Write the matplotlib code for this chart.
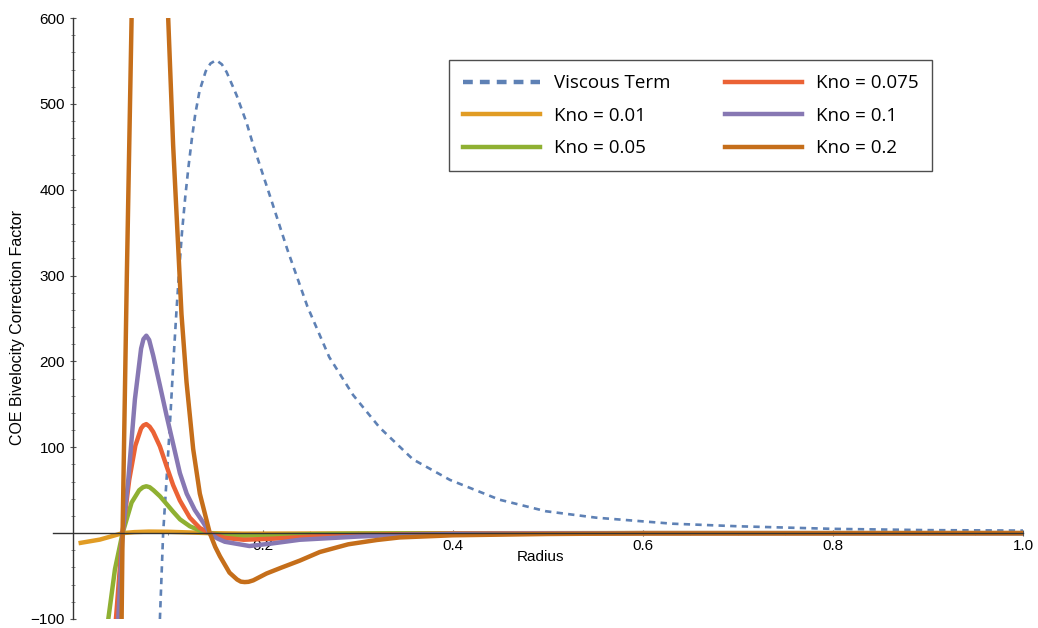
import numpy as np
import matplotlib
matplotlib.use("Agg")
import matplotlib.pyplot as plt
from matplotlib.lines import Line2D
from matplotlib.ticker import MultipleLocator, FixedLocator, FormatStrFormatter

# radius / correction-factor samples for each curve
viscous_r = [0.0918, 0.0952, 0.0998, 0.1030, 0.1060, 0.1090, 0.1120, 0.1150, 0.1185, 0.1220,
             0.1255, 0.1290, 0.1335, 0.1400, 0.1450, 0.1510, 0.1570, 0.1620, 0.1725, 0.1830,
             0.19, 0.209, 0.226, 0.247, 0.27, 0.295, 0.323, 0.358, 0.397, 0.449, 0.498, 0.551,
             0.631, 0.70, 0.80, 0.90, 1.0]
viscous_y = [-100, 0, 80, 140, 200, 255, 305, 350, 392, 428,
             460, 488, 515, 538, 547, 551, 546, 537, 510, 478,
             452, 388, 330, 264, 205, 161, 123, 86, 62, 39, 25.5, 18,
             11, 8, 5, 3.5, 3]

kno001_r = [0.0085, 0.0287, 0.0525, 0.065, 0.08, 0.10, 0.12, 0.1443, 0.18, 0.25, 0.4, 0.6, 1.0]
kno001_y = [-11.3, -7.5, 0, 1.2, 1.8, 1.6, 0.9, 0, -0.6, -0.4, -0.1, 0, 0]

kno005_r = [0.0375, 0.0445, 0.0525, 0.062, 0.070, 0.074, 0.0775, 0.081, 0.085, 0.0918, 0.0988,
            0.1057, 0.113, 0.1233, 0.134, 0.1443, 0.16, 0.18, 0.21, 0.25, 0.3, 0.4, 0.6, 1.0]
kno005_y = [-100, -42, 0, 35.6, 50, 53.5, 54.6, 53.5, 50, 43, 34,
            25, 16, 8, 3, 0, -2.5, -3, -2.5, -1.2, -0.5, -0.1, 0, 0]

kno0075_r = [0.0455, 0.0525, 0.0595, 0.066, 0.072, 0.0745, 0.0775, 0.081, 0.0847, 0.0918, 0.0988,
             0.1057, 0.1128, 0.1233, 0.1338, 0.1443, 0.16, 0.18, 0.21, 0.25, 0.3, 0.4, 0.6, 1.0]
kno0075_y = [-100, 0, 62, 102, 122, 125.5, 127, 124, 118, 101, 78,
             56, 38, 18, 6, 0, -5.5, -7.7, -6.5, -4, -2, -0.5, 0, 0]

kno01_r = [0.048, 0.0525, 0.0585, 0.0655, 0.072, 0.0745, 0.0775, 0.0805, 0.0847, 0.0918, 0.0988,
           0.1057, 0.1128, 0.120, 0.1285, 0.137, 0.1443, 0.152, 0.16, 0.186, 0.21, 0.239, 0.3,
           0.344, 0.4, 0.6, 1.0]
kno01_y = [-100, 0, 62, 156, 215, 226, 230, 225, 207, 172, 137,
           104, 70, 46, 27, 13, 0, -6, -10, -15, -12, -7.7, -4,
           -2, -1, 0, 0]

# the Kno = 0.2 peak runs off the top of the axes, so the trace is split there
kno02_r = [0.0515, 0.0525, 0.057, 0.062, np.nan, 0.1005, 0.1057, 0.111, 0.1145, 0.1198, 0.1268,
           0.1338, 0.1443, 0.150, 0.155, 0.165, 0.173, 0.177, 0.181, 0.185, 0.19, 0.204, 0.22,
           0.239, 0.26, 0.29, 0.32, 0.344, 0.4, 0.5, 0.6, 1.0]
kno02_y = [-100, 0, 300, 600, np.nan, 600, 452, 334, 255, 176, 98,
           46, 0, -16, -27, -46, -54, -56.5, -57, -56.7, -55, -47, -40,
           -32, -22, -13, -8, -5, -2.5, -1, -0.3, 0]

colors = {"visc": "#5E81B5", "0.01": "#E19C24", "0.05": "#8FB032",
          "0.075": "#EB6235", "0.1": "#8778B3", "0.2": "#C56E1A"}

plt.rcParams["font.family"] = ["Liberation Sans", "DejaVu Sans"]

fig = plt.figure(figsize=(10.38, 6.28), dpi=100)
ax = fig.add_axes([53 / 1038, 1 - 619 / 628, 970 / 1038, 601 / 628])

lw = 3.2
ax.plot(viscous_r, viscous_y, color=colors["visc"], lw=1.9, dashes=(2.4, 2.0), zorder=2)
ax.plot(kno001_r, kno001_y, color=colors["0.01"], lw=lw, zorder=3)
ax.plot(kno005_r, kno005_y, color=colors["0.05"], lw=lw, zorder=3)
ax.plot(kno0075_r, kno0075_y, color=colors["0.075"], lw=lw, zorder=3)
ax.plot(kno01_r, kno01_y, color=colors["0.1"], lw=lw, zorder=3)
ax.plot(kno02_r, kno02_y, color=colors["0.2"], lw=lw, solid_capstyle="butt", zorder=3)

ax.set_xlim(-0.0207, 1.0)
ax.set_ylim(-100, 600)

# axes cross at the origin
for side in ("top", "right"):
    ax.spines[side].set_visible(False)
ax.spines["left"].set_position(("data", 0))
ax.spines["bottom"].set_position(("data", 0))
for side in ("left", "bottom"):
    ax.spines[side].set_color("#333333")
    ax.spines[side].set_linewidth(1.0)
    ax.spines[side].set_zorder(5)

ax.xaxis.set_major_locator(FixedLocator([0.2, 0.4, 0.6, 0.8, 1.0]))
ax.xaxis.set_minor_locator(MultipleLocator(0.05))
ax.yaxis.set_major_locator(FixedLocator([-100, 100, 200, 300, 400, 500, 600]))
ax.yaxis.set_minor_locator(MultipleLocator(20))
ax.xaxis.set_major_formatter(FormatStrFormatter("%.1f"))
ax.tick_params(axis="both", which="major", length=5, width=0.8, color="#555555",
               labelsize=11, direction="inout")
ax.tick_params(axis="both", which="minor", length=3, width=0.6, color="#777777", direction="inout")
ax.tick_params(axis="x", pad=2)
ax.tick_params(axis="y", pad=3)

fig.text(18 / 1038, 1 - 327 / 628, "COE Bivelocity Correction Factor", rotation=90,
         ha="center", va="center", fontsize=11.5)
fig.text(541 / 1038, 1 - 557 / 628, "Radius", ha="center", va="center", fontsize=11)

handles = [
    Line2D([], [], color=colors["visc"], lw=3.2, dashes=(2.2, 1.6)),
    Line2D([], [], color=colors["0.01"], lw=3.2),
    Line2D([], [], color=colors["0.05"], lw=3.2),
    Line2D([], [], color=colors["0.075"], lw=3.2),
    Line2D([], [], color=colors["0.1"], lw=3.2),
    Line2D([], [], color=colors["0.2"], lw=3.2),
]
labels = ["Viscous Term", "Kno = 0.01", "Kno = 0.05", "Kno = 0.075", "Kno = 0.1", "Kno = 0.2"]
leg = ax.legend(handles, labels, ncol=2, loc="upper left", bbox_to_anchor=(0.408, 0.930),
                prop={"family": "Open Sans", "size": 13.5}, frameon=True, fancybox=False,
                handlelength=4.1, handletextpad=0.75, columnspacing=2.9, labelspacing=0.78,
                borderpad=0.75, borderaxespad=0)
leg.get_frame().set_edgecolor("#222222")
leg.get_frame().set_linewidth(1.0)

fig.savefig("out.png", dpi=100)
